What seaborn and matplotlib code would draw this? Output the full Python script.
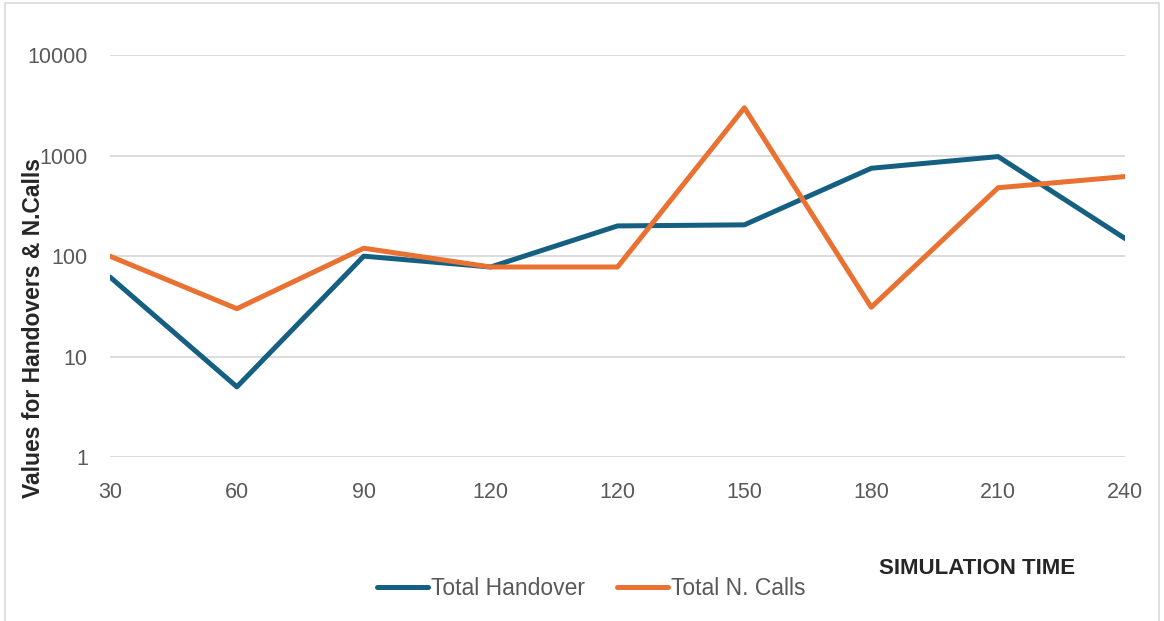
import pandas as pd
import matplotlib.pyplot as plt
import seaborn as sns
from matplotlib.patches import Rectangle

# Data
time_labels = ['30', '60', '90', '120', '120', '150', '180', '210', '240']
total_handover = [62, 5, 100, 78, 200, 205, 750, 980, 150]
total_calls = [100, 30, 120, 78, 78, 3000, 31, 480, 620]

df = pd.DataFrame({
    'pos': list(range(len(time_labels))) * 2,
    'value': total_handover + total_calls,
    'series': ['Total Handover'] * len(time_labels) + ['Total N. Calls'] * len(time_labels),
})

sns.set_style('white')
plt.rcParams['font.family'] = ['Liberation Sans', 'DejaVu Sans']

fig = plt.figure(figsize=(11.64, 6.21), dpi=100)
ax = fig.add_axes([0.0945, 0.264, 0.872, 0.647])

sns.lineplot(data=df, x='pos', y='value', hue='series',
             palette=['#156082', '#E97132'], linewidth=3.6, ax=ax, legend=False)

ax.set_yscale('log')
ax.set_ylim(1, 10000)
ax.set_xlim(0, len(time_labels) - 1)
ax.set_yticks([1, 10, 100, 1000, 10000])
ax.set_yticklabels(['1', '10', '100', '1000', '10000'])
ax.minorticks_off()
ax.set_xticks(range(len(time_labels)))
ax.set_xticklabels(time_labels)
ax.tick_params(axis='both', length=0, labelsize=15.5, labelcolor='#595959')
ax.tick_params(axis='x', pad=18)
ax.tick_params(axis='y', pad=16)
ax.grid(axis='y', color='#D9D9D9', linewidth=1.3)
ax.set_axisbelow(True)
for s in ax.spines.values():
    s.set_visible(False)
ax.set_xlabel('')
ax.set_ylabel('')

fig.text(0.029, 0.472, 'Values for Handovers & N.Calls', rotation=90,
         fontsize=16.5, fontweight='bold', ha='center', va='center')
fig.text(0.839, 0.085, 'SIMULATION TIME', fontsize=16, fontweight='bold',
         ha='center', va='center')

handles = [plt.Line2D([], [], color='#156082', linewidth=3.6),
           plt.Line2D([], [], color='#E97132', linewidth=3.6)]
fig.legend(handles, ['Total Handover', 'Total N. Calls'], loc='center',
           bbox_to_anchor=(0.508, 0.053), ncol=2, frameon=False, fontsize=16.5,
           handlelength=2.2, handletextpad=0.15, columnspacing=1.4,
           labelcolor='#595959')

fig.patches.append(Rectangle((0.004, -0.01), 0.992, 1.005, transform=fig.transFigure,
                             fill=False, edgecolor='#D9D9D9', linewidth=1.2))

fig.savefig('out.png', dpi=100)
